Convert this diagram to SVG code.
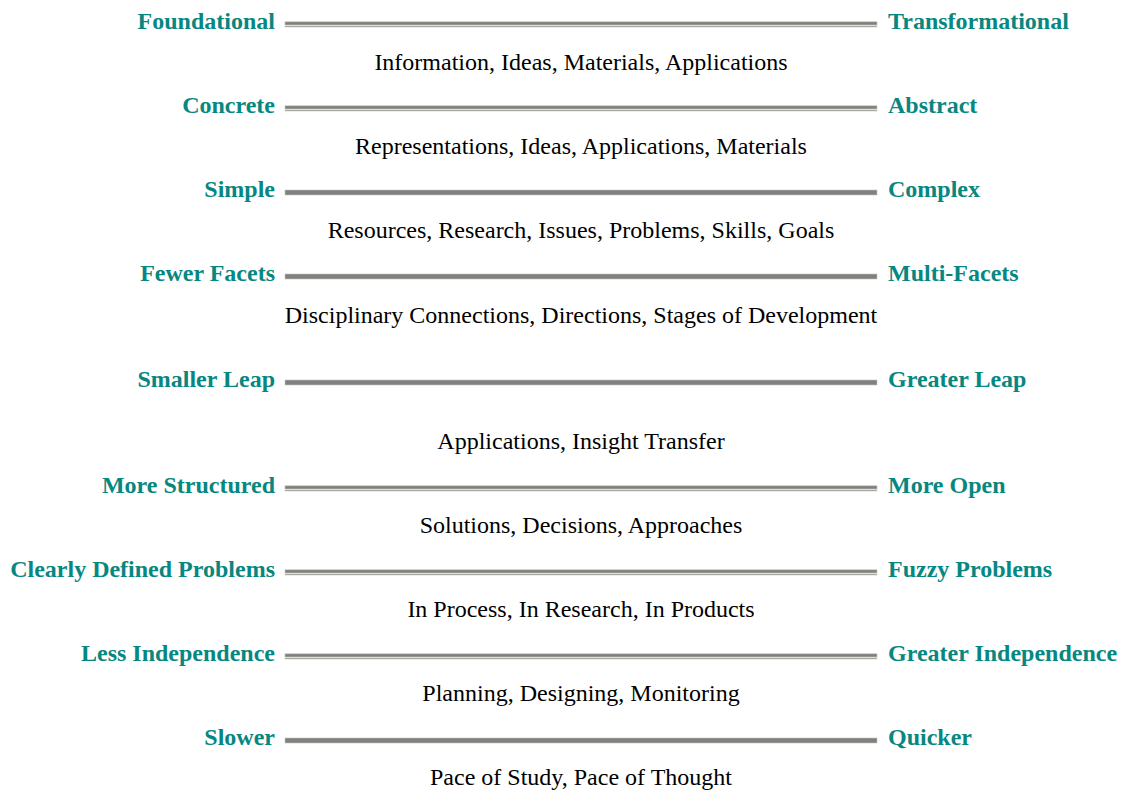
<svg xmlns="http://www.w3.org/2000/svg" width="1122" height="791" viewBox="0 0 1122 791">
<style>
.l{font-family:"Liberation Serif",serif;font-weight:bold;font-size:24px;fill:#078781;text-anchor:end}
.r{font-family:"Liberation Serif",serif;font-weight:bold;font-size:24px;fill:#078781;text-anchor:start}
.d{font-family:"Liberation Serif",serif;font-size:24px;fill:#000;text-anchor:middle}
.bar{fill:#808080;stroke:#c4c4b8;stroke-width:0.6}
</style>
<defs>
<g id="dbl"><rect class="bar" x="285" y="0" width="592" height="3.2"/><rect class="bar" x="285" y="4.2" width="592" height="1"/></g>
<g id="sol"><rect class="bar" x="285" y="0" width="592" height="5"/></g>
</defs>
<g id="connectors">
<use href="#dbl" y="21.8"/>
<use href="#dbl" y="105.8"/>
<use href="#sol" y="190"/>
<use href="#sol" y="274"/>
<use href="#sol" y="380"/>
<use href="#dbl" y="485.8"/>
<use href="#dbl" y="569.8"/>
<use href="#dbl" y="653.8"/>
<use href="#sol" y="738"/>
</g>
<g id="row1"><text class="l" x="275" y="29">Foundational</text><text class="r" x="888" y="29">Transformational</text><text class="d" x="581" y="70">Information, Ideas, Materials, Applications</text></g>
<g id="row2"><text class="l" x="275" y="113">Concrete</text><text class="r" x="888" y="113">Abstract</text><text class="d" x="581" y="154">Representations, Ideas, Applications, Materials</text></g>
<g id="row3"><text class="l" x="275" y="197">Simple</text><text class="r" x="888" y="197">Complex</text><text class="d" x="581" y="238">Resources, Research, Issues, Problems, Skills, Goals</text></g>
<g id="row4"><text class="l" x="275" y="281">Fewer Facets</text><text class="r" x="888" y="281">Multi-Facets</text><text class="d" x="581" y="323">Disciplinary Connections, Directions, Stages of Development</text></g>
<g id="row5"><text class="l" x="275" y="387">Smaller Leap</text><text class="r" x="888" y="387">Greater Leap</text><text class="d" x="581" y="449">Applications, Insight Transfer</text></g>
<g id="row6"><text class="l" x="275" y="493">More Structured</text><text class="r" x="888" y="493">More Open</text><text class="d" x="581" y="533">Solutions, Decisions, Approaches</text></g>
<g id="row7"><text class="l" x="275" y="577">Clearly Defined Problems</text><text class="r" x="888" y="577">Fuzzy Problems</text><text class="d" x="581" y="617">In Process, In Research, In Products</text></g>
<g id="row8"><text class="l" x="275" y="661">Less Independence</text><text class="r" x="888" y="661">Greater Independence</text><text class="d" x="581" y="701">Planning, Designing, Monitoring</text></g>
<g id="row9"><text class="l" x="275" y="745">Slower</text><text class="r" x="888" y="745">Quicker</text><text class="d" x="581" y="785">Pace of Study, Pace of Thought</text></g>
</svg>
